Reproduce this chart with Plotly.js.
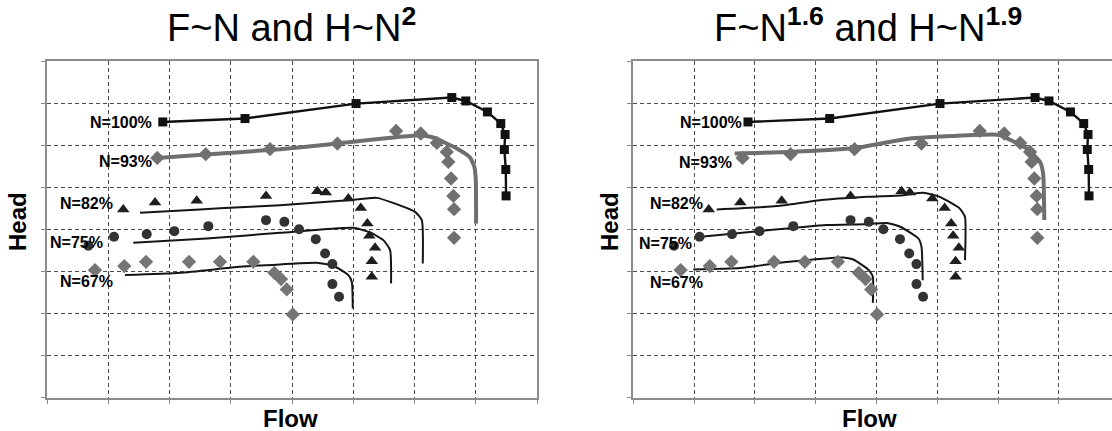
<!DOCTYPE html>
<html>
<head>
<meta charset="utf-8">
<script src="https://cdn.plot.ly/plotly-3.0.1.min.js"></script>
<style>
html,body{margin:0;padding:0;background:#fff;}
#chart{width:1112px;height:431px;}
</style>
</head>
<body>
<div id="chart"></div>
<script>
// ---- Measured data (identical in both panels) ----
const flow100 = [1.886, 3.230, 5.044, 6.608, 6.837, 7.190, 7.408, 7.479, 7.467, 7.490, 7.495];
const head100 = [6.551, 6.632, 6.988, 7.131, 7.050, 6.789, 6.513, 6.252, 5.895, 5.420, 4.793];

const flow93 = [1.797, 2.588, 3.639, 4.739, 5.698, 6.101, 6.363, 6.526, 6.552, 6.596, 6.634, 6.645, 6.645];
const head93 = [5.696, 5.784, 5.903, 6.038, 6.337, 6.276, 6.052, 5.838, 5.601, 5.207, 4.793, 4.477, 3.796];

const flow82 = [1.241, 1.760, 2.441, 3.573, 4.412, 4.549, 4.918, 5.121, 5.229, 5.261, 5.355, 5.301, 5.301];
const head82 = [4.470, 4.637, 4.675, 4.793, 4.905, 4.874, 4.732, 4.508, 4.138, 3.843, 3.558, 3.242, 2.870];

const flow75 = [0.670, 1.090, 1.624, 2.075, 2.631, 3.573, 3.873, 4.113, 4.386, 4.538, 4.657, 4.657, 4.766];
const head75 = [3.606, 3.820, 3.884, 3.955, 4.074, 4.216, 4.176, 4.002, 3.765, 3.425, 3.171, 2.696, 2.394];

const flow67 = [0.779, 1.258, 1.613, 2.315, 2.822, 3.366, 3.709, 3.819, 3.912, 4.010];
const head67 = [3.029, 3.124, 3.226, 3.226, 3.226, 3.226, 2.964, 2.815, 2.570, 1.976];

// ---- Model curves, left panel (F~N, H~N^2) ----
const leftFlow93 = [1.797, 2.588, 3.802, 4.739, 6.090, 6.307, 6.690, 6.907, 6.977, 7.000, 7.005];
const leftHead93 = [5.696, 5.777, 5.903, 6.038, 6.235, 6.181, 5.919, 5.705, 5.482, 5.166, 4.138];
const leftFlow82 = [1.515, 2.495, 3.149, 3.802, 4.918, 5.382, 5.600, 6.008, 6.118, 6.134];
const leftHead82 = [4.390, 4.470, 4.525, 4.572, 4.691, 4.746, 4.651, 4.413, 4.216, 3.188];
const leftFlow75 = [1.405, 2.605, 3.802, 5.000, 5.273, 5.490, 5.600, 5.616];
const leftHead75 = [3.677, 3.780, 3.915, 4.034, 3.924, 3.741, 3.504, 2.713];
const leftFlow67 = [1.270, 2.168, 3.149, 3.802, 4.402, 4.673, 4.918, 4.974, 4.990];
const leftHead67 = [2.910, 2.965, 3.107, 3.164, 3.203, 3.131, 2.910, 2.751, 2.119];

// ---- Model curves, right panel (F~N^1.6, H~N^1.9) ----
const rightFlow93 = [1.668, 2.605, 3.646, 4.550, 5.920, 6.030, 6.470, 6.690, 6.740, 6.760];
const rightHead93 = [5.800, 5.840, 5.930, 6.160, 6.250, 6.235, 5.920, 5.600, 5.330, 4.220];
const rightFlow82 = [1.372, 2.360, 3.070, 3.850, 4.440, 4.770, 5.040, 5.370, 5.455, 5.455];
const rightHead82 = [4.470, 4.550, 4.690, 4.770, 4.810, 4.865, 4.770, 4.490, 4.295, 3.266];
const rightFlow75 = [1.113, 2.090, 3.180, 3.800, 4.170, 4.390, 4.690, 4.740, 4.760];
const rightHead75 = [3.820, 3.960, 4.100, 4.120, 4.150, 4.060, 3.780, 3.580, 2.790];
const rightFlow67 = [0.987, 1.755, 2.520, 3.450, 3.620, 3.840, 3.890, 3.940, 3.940];
const rightHead67 = [3.045, 3.080, 3.220, 3.330, 3.280, 3.070, 3.000, 2.870, 2.250];

const speedLabels = ["N=100%", "N=93%", "N=82%", "N=75%", "N=67%"];
const titleLeft = "F~N and H~N<sup><b>2</b></sup>";
const titleRight = "F~N<sup><b>1.6</b></sup> and H~N<sup><b>1.9</b></sup>";
const xTitle = "Flow";
const yTitle = "Head";

// ---- styles ----
const W = 1112, H = 431;
const px = v => v / W;
const py = v => 1 - v / H;
const FONT = "Liberation Sans, Arial, Helvetica, sans-serif";

function panel(xa, ya, f93, h93, f82, h82, f75, h75, f67, h67) {
  const common = {xaxis: xa, yaxis: ya, hoverinfo: "skip", showlegend: false, cliponaxis: false};
  return [
    Object.assign({x: f93, y: h93, mode: "lines", line: {color: "#6e6e6e", width: 4, shape: "spline", smoothing: 0.5}}, common),
    Object.assign({x: f82, y: h82, mode: "lines", line: {color: "#151515", width: 2, shape: "spline", smoothing: 0.5}}, common),
    Object.assign({x: f75, y: h75, mode: "lines", line: {color: "#151515", width: 2, shape: "spline", smoothing: 0.5}}, common),
    Object.assign({x: f67, y: h67, mode: "lines", line: {color: "#151515", width: 2, shape: "spline", smoothing: 0.5}}, common),
    Object.assign({x: flow100, y: head100, mode: "lines+markers", line: {color: "#111", width: 2.4}, marker: {symbol: "square", size: 9, color: "#111"}}, common),
    Object.assign({x: flow93, y: head93, mode: "markers", marker: {symbol: "diamond", size: 11, color: "#707070"}}, common),
    Object.assign({x: flow82, y: head82, mode: "markers", marker: {symbol: "triangle-up", size: 11, color: "#1e1e1e"}}, common),
    Object.assign({x: flow75, y: head75, mode: "markers", marker: {symbol: "circle", size: 10, color: "#333"}}, common),
    Object.assign({x: flow67, y: head67, mode: "markers", marker: {symbol: "diamond", size: 11, color: "#757575"}}, common)
  ];
}

const data = [].concat(
  panel("x", "y", leftFlow93, leftHead93, leftFlow82, leftHead82, leftFlow75, leftHead75, leftFlow67, leftHead67),
  panel("x2", "y2", rightFlow93, rightHead93, rightFlow82, rightHead82, rightFlow75, rightHead75, rightFlow67, rightHead67)
);

const axisBase = {
  showticklabels: false, ticks: "outside", ticklen: 4, tickcolor: "#888", tickwidth: 1,
  showgrid: true, gridcolor: "#4a4a4a", gridwidth: 1, griddash: "4px,3px",
  zeroline: false, showline: true, linecolor: "#8c8c8c", linewidth: 2,
  dtick: 1, tick0: 0, fixedrange: true
};

const yDom = [py(397.5), py(61)];
const layout = {
  width: W, height: H,
  margin: {l: 0, r: 0, t: 0, b: 0},
  paper_bgcolor: "#fff", plot_bgcolor: "#fff",
  font: {family: FONT, color: "#000"},
  xaxis: Object.assign({}, axisBase, {domain: [px(47.3), px(537)], range: [0, 8], mirror: true, anchor: "y"}),
  yaxis: Object.assign({}, axisBase, {domain: yDom, range: [0, 8], mirror: true, anchor: "x"}),
  xaxis2: Object.assign({}, axisBase, {domain: [px(633.3), 1], range: [0, (W - 633.3) / 60.8], mirror: true, anchor: "y2"}),
  yaxis2: Object.assign({}, axisBase, {domain: yDom, range: [0, 8], mirror: false, anchor: "x2"}),
  annotations: []
};

const ann = layout.annotations;
function addText(text, x, y, size, bold, opts) {
  ann.push(Object.assign({
    text: bold ? "<b>" + text + "</b>" : text,
    xref: "paper", yref: "paper", x: px(x), y: py(y),
    xanchor: "center", yanchor: "middle", showarrow: false,
    font: {family: FONT, size: size, color: "#000"}
  }, opts || {}));
}
addText(titleLeft, 291, 25, 38, false);
addText(titleRight, 867.5, 25, 38, false);
addText(xTitle, 290, 418, 24, true);
addText(xTitle, 869, 418, 24, true);
addText(yTitle, 18, 222, 24, true, {textangle: -90});
addText(yTitle, 610, 222, 24, true, {textangle: -90});

const leftLab = [[152.7, 122.7], [153.3, 161.7], [114, 203.3], [104, 242.7], [114, 281.7]];
const rightLab = [[742.7, 122.7], [733.3, 162.7], [704, 203.3], [693.3, 243.3], [704, 282.7]];
speedLabels.forEach((t, i) => {
  addText(t, leftLab[i][0], leftLab[i][1], 16, true, {xanchor: "right", borderpad: 0});
  addText(t, rightLab[i][0], rightLab[i][1], 16, true, {xanchor: "right", borderpad: 0});
});

Plotly.newPlot("chart", data, layout, {displayModeBar: false, staticPlot: true});
</script>
</body>
</html>
